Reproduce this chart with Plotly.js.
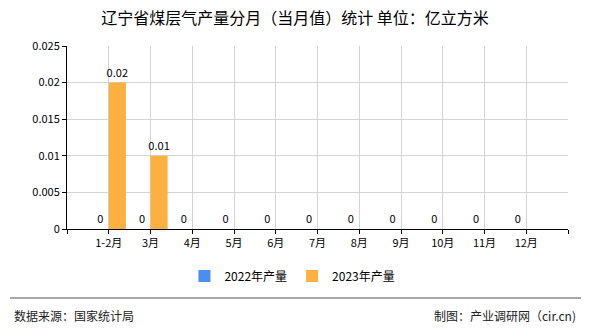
<!DOCTYPE html>
<html>
<head>
<meta charset="utf-8">
<script src="https://cdn.plot.ly/plotly-3.0.1.min.js"></script>
<style>
html,body{margin:0;padding:0;background:#fff;}
#chart{width:590px;height:330px;}
</style>
</head>
<body>
<div id="chart"></div>
<script>
const categories = ['1-2月','3月','4月','5月','6月','7月','8月','9月','10月','11月','12月'];
const values2022 = [0,0,0,0,0,0,0,0,0,0,0];
const values2023 = [0.02,0.01,null,null,null,null,null,null,null,null,null];
const seriesNames = ['2022年产量','2023年产量'];
const yTicks = [0,0.005,0.01,0.015,0.02,0.025];

const xIdx = categories.map((c,i)=>i);
const tickVals = [-1].concat(xIdx).concat([categories.length]);
const tickText = [''].concat(categories).concat(['']);
const FONT = '"Noto Sans CJK SC", "Noto Sans", sans-serif';

const fmt = v => (v===null ? '' : String(v));

const traces = [
  {type:'bar', name:seriesNames[0], x:xIdx, y:values2022,
   marker:{color:'#4A8FEF'}, text:values2022.map(fmt), textposition:'outside', constraintext:'none',
   textfont:{size:11,color:'#000',family:FONT}, cliponaxis:false, hoverinfo:'none'},
  {type:'bar', name:seriesNames[1], x:xIdx, y:values2023,
   marker:{color:'#FBB040'}, text:values2023.map(fmt), textposition:'outside', constraintext:'none',
   textfont:{size:11,color:'#000',family:FONT}, cliponaxis:false, hoverinfo:'none'}
];

const layout = {
  width:590, height:330,
  margin:{l:67, r:22, t:46, b:101},
  paper_bgcolor:'#fff', plot_bgcolor:'#fff',
  font:{family:FONT, size:11, color:'#000'},
  title:{text:'辽宁省煤层气产量分月（当月值）统计 单位：亿立方米',
         font:{size:16,color:'#000',family:FONT}, x:0.5, xref:'container', xanchor:'center',
         y:1-18/330, yref:'container', yanchor:'middle'},
  barmode:'group', bargap:0.18, bargroupgap:0,
  xaxis:{range:[-1, categories.length], tickmode:'array', tickvals:tickVals, ticktext:tickText,
         showgrid:true, gridcolor:'#d4d4d4', gridwidth:1, zeroline:false,
         showline:true, linecolor:'#000', linewidth:1,
         ticks:'outside', ticklen:4, tickcolor:'#000', tickfont:{size:11,family:FONT}},
  yaxis:{range:[0,0.025], tickmode:'array', tickvals:yTicks, ticktext:yTicks.map(String),
         showgrid:true, gridcolor:'#d4d4d4', gridwidth:1, zeroline:false,
         showline:true, linecolor:'#000', linewidth:1,
         ticks:'outside', ticklen:4, tickcolor:'#000', tickfont:{size:11,family:FONT}},
  showlegend:true,
  legend:{orientation:'h', x:0.45, xanchor:'center', y:(229-276)/183, yanchor:'middle',
          font:{size:12,family:FONT,color:'#000'}, itemwidth:30, traceorder:'normal'},
  shapes:[
    {type:'line', xref:'paper', yref:'paper', x0:(10-67)/501, x1:(581-67)/501,
     y0:(229-298)/183, y1:(229-298)/183, line:{color:'#8a8a8a', width:1.5}}
  ],
  annotations:[
    {xref:'paper', yref:'paper', x:(12-67)/501, y:(229-315)/183, xanchor:'left', yanchor:'middle',
     text:'数据来源：国家统计局', showarrow:false, font:{size:12,family:FONT,color:'#222'}},
    {xref:'paper', yref:'paper', x:(578-67)/501, y:(229-315)/183, xanchor:'right', yanchor:'middle',
     text:'制图：产业调研网（cir.cn)', showarrow:false, font:{size:12,family:FONT,color:'#222'}}
  ]
};

Plotly.newPlot('chart', traces, layout, {displayModeBar:false, staticPlot:true});
</script>
</body>
</html>
